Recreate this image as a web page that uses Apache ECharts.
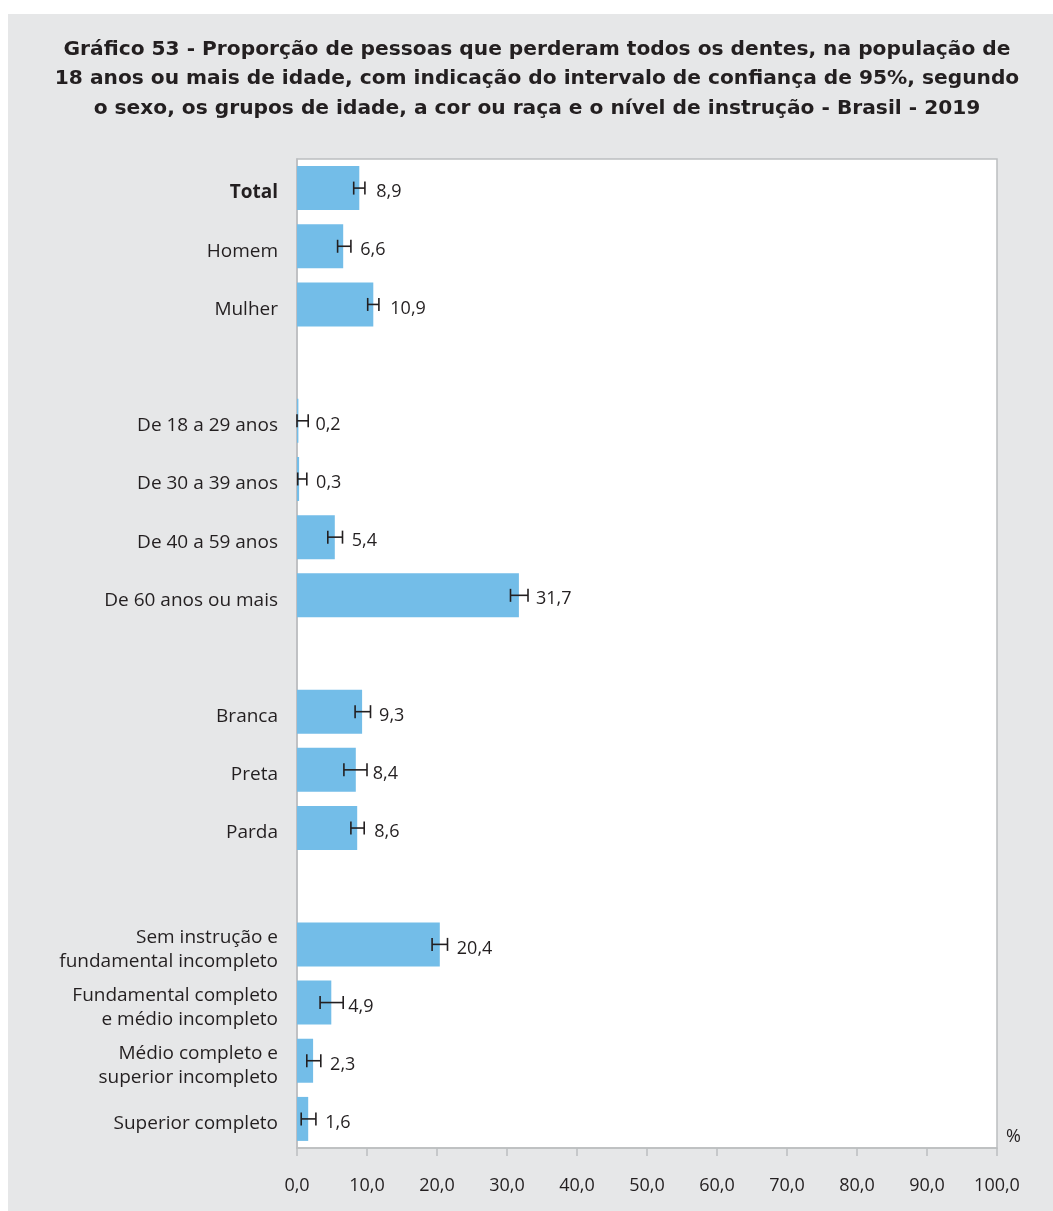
<!DOCTYPE html>
<html>
<head>
<meta charset="utf-8">
<script src="https://cdn.jsdelivr.net/npm/echarts@6.0.0/dist/echarts.min.js"></script>
<style>
	html, body { margin: 0; padding: 0; background: #fff; }
	#chart { position: absolute; left: 8px; top: 14px; width: 1045px; height: 1197px; background: #e6e7e8; }
</style>
</head>
<body>
<div id="chart"></div>
<script>
var titleText = 'Gráfico 53 - Proporção de pessoas que perderam todos os dentes, na população de\n'
	+ '18 anos ou mais de idade, com indicação do intervalo de confiança de 95%, segundo\n'
	+ 'o sexo, os grupos de idade, a cor ou raça e o nível de instrução - Brasil - 2019';

var categories = ['Total', 'Homem', 'Mulher', '',
	'De 18 a 29 anos', 'De 30 a 39 anos', 'De 40 a 59 anos', 'De 60 anos ou mais', '',
	'Branca', 'Preta', 'Parda', '',
	'Sem instrução e\nfundamental incompleto', 'Fundamental completo\ne médio incompleto',
	'Médio completo e\nsuperior incompleto', 'Superior completo'];
var values = [8.9, 6.6, 10.9, null, 0.2, 0.3, 5.4, 31.7, null, 9.3, 8.4, 8.6, null, 20.4, 4.9, 2.3, 1.6];
var lower  = [8.1, 5.8, 10.1, null, 0.0, 0.1, 4.4, 30.5, null, 8.3, 6.7, 7.7, null, 19.3, 3.3, 1.4, 0.6];
var upper  = [9.7, 7.7, 11.7, null, 1.6, 1.4, 6.5, 33.0, null, 10.5, 10.0, 9.6, null, 21.5, 6.6, 3.4, 2.7];
var xTicks = [0, 10, 20, 30, 40, 50, 60, 70, 80, 90, 100];

var textColor = '#231f20';
var fontName = '"Open Sans", sans-serif';

function fmt(v){
	return Number(v).toFixed(1).replace('.', ',');
}

var barData = [];
var errData = [];
for (var i = 0; i < categories.length; i++) {
	barData.push(values[i] == null ? '-' : values[i]);
	if (values[i] != null) {
		errData.push([lower[i], upper[i], i]);
	}
}

var myChart = echarts.init(document.getElementById('chart'));

var option = {
	backgroundColor: '#e6e7e8',
	textStyle: { fontFamily: fontName },
	title: {
		text: titleText,
		left: 524,
		top: 16,
		textAlign: 'center',
		textStyle: {
			fontFamily: '"DejaVu Sans", sans-serif',
			fontSize: 20.2,
			fontWeight: 'bold',
			lineHeight: 29.5,
			color: textColor
		}
	},
	grid: {
		left: 289,
		top: 145,
		width: 700,
		height: 989,
		show: true,
		backgroundColor: '#fff',
		borderColor: '#bcbec0',
		borderWidth: 1.5
	},
	xAxis: {
		type: 'value',
		min: xTicks[0],
		max: xTicks[xTicks.length - 1],
		interval: 10,
		splitLine: { show: false },
		axisLine: { show: true, lineStyle: { color: '#bcbec0', width: 1.5 } },
		axisTick: { show: true, length: 8, lineStyle: { color: '#bcbec0', width: 1.5 } },
		axisLabel: {
			margin: 29,
			fontSize: 18,
			color: textColor,
			fontFamily: fontName,
			formatter: function(v){ return fmt(v); }
		}
	},
	yAxis: {
		type: 'category',
		inverse: true,
		data: categories,
		axisLine: { show: true, lineStyle: { color: '#bcbec0', width: 1.5 } },
		axisTick: { show: false },
		axisLabel: {
			margin: 19,
			fontSize: 19,
			lineHeight: 24,
			padding: [10, 0, 0, 0],
			color: textColor,
			fontFamily: fontName,
			formatter: function(v, idx){
				if (idx == 0) return '{b|' + v + '}';
				return v;
			},
			rich: {
				b: { fontWeight: 'bold', fontSize: 19, color: textColor, fontFamily: fontName }
			}
		}
	},
	graphic: [{
		type: 'text',
		x: 998,
		y: 1123,
		style: {
			text: '%',
			fill: textColor,
			font: '18px ' + fontName,
			verticalAlign: 'middle'
		}
	}],
	series: [{
		type: 'bar',
		data: barData,
		barWidth: 44,
		itemStyle: { color: '#73bde8' },
		label: {
			show: true,
			position: 'right',
			distance: 17,
			offset: [0, 4],
			fontSize: 18,
			color: textColor,
			fontFamily: fontName,
			formatter: function(p){ return fmt(p.value); }
		},
		z: 2
	}, {
		type: 'custom',
		data: errData,
		encode: { x: [0, 1], y: 2 },
		z: 3,
		renderItem: function(params, api){
			var lo = api.coord([api.value(0), api.value(2)]);
			var hi = api.coord([api.value(1), api.value(2)]);
			var h = 6.5;
			var st = { stroke: textColor, lineWidth: 1.6 };
			return {
				type: 'group',
				children: [
					{ type: 'line', shape: { x1: lo[0], y1: lo[1], x2: hi[0], y2: hi[1] }, style: st },
					{ type: 'line', shape: { x1: lo[0], y1: lo[1] - h, x2: lo[0], y2: lo[1] + h }, style: st },
					{ type: 'line', shape: { x1: hi[0], y1: hi[1] - h, x2: hi[0], y2: hi[1] + h }, style: st }
				]
			};
		}
	}]
};
myChart.setOption(option);
</script>
</body>
</html>
